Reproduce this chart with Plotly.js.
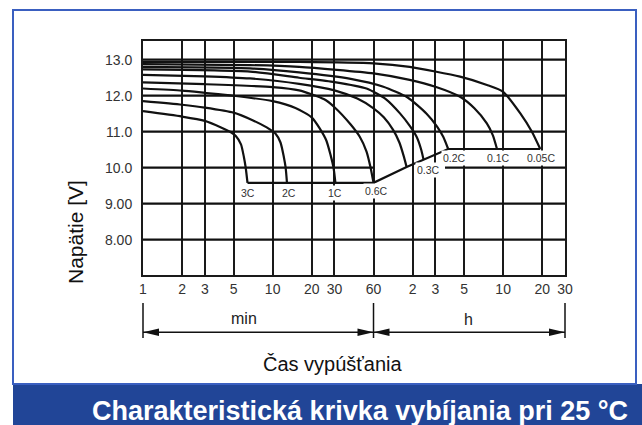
<!DOCTYPE html>
<html><head><meta charset="utf-8">
<script src="https://cdn.plot.ly/plotly-3.0.1.min.js"></script>
<style>html,body{margin:0;padding:0;background:#fff}#chart{width:642px;height:425px}</style>
</head><body><div id="chart"></div>
<script>
// ---- data (time in minutes, voltage in V) ----
const curveNames = ['3C','2C','1C','0.6C','','0.3C','0.2C','0.1C','0.05C'];
const t3C  = [1, 2, 3, 4, 4.7, 5.2, 5.7, 6.0, 6.2, 6.4];
const v3C  = [11.57, 11.42, 11.3, 11.12, 11.0, 10.88, 10.65, 10.3, 10.0, 9.58];
const t2C  = [1, 2, 3, 5, 7, 9, 10.5, 11.5, 12.2, 12.6, 12.9];
const v2C  = [11.85, 11.75, 11.67, 11.53, 11.32, 11.12, 10.95, 10.7, 10.3, 10.0, 9.58];
const t1C  = [1, 2, 3, 5, 10, 15, 20, 23, 26, 28, 29.5, 30.5];
const v1C  = [12.2, 12.14, 12.08, 12.0, 11.85, 11.66, 11.4, 11.1, 10.75, 10.35, 10.0, 9.58];
const t06C = [1, 3, 10, 16, 25, 30, 40, 47, 53, 57, 60];
const v06C = [12.37, 12.32, 12.24, 12.15, 11.9, 11.68, 11.2, 10.86, 10.45, 10.0, 9.58];
const tX   = [1, 3, 6.7, 16, 30, 45, 60, 72, 85, 95, 103, 108];
const vX   = [12.58, 12.54, 12.48, 12.33, 12.15, 11.92, 11.65, 11.4, 11.05, 10.7, 10.3, 10.02];
const t03C = [1, 6.7, 16, 30, 53, 75, 96, 115, 129, 140, 146];
const v03C = [12.73, 12.67, 12.5, 12.38, 12.2, 11.9, 11.51, 11.15, 10.86, 10.5, 10.22];
const t02C = [1, 6.7, 16, 40, 71.5, 110, 154, 185, 207, 226];
const v02C = [12.8, 12.76, 12.65, 12.47, 12.25, 11.95, 11.5, 11.15, 10.86, 10.52];
const t01C = [1, 6.7, 16, 60, 114, 180, 279, 360, 449, 500, 538];
const v01C = [12.88, 12.85, 12.8, 12.62, 12.44, 12.25, 11.97, 11.65, 11.23, 10.9, 10.52];
const t005C = [1, 16, 60, 114, 279, 450, 600, 814, 1000, 1160];
const v005C = [12.94, 12.94, 12.9, 12.8, 12.53, 12.3, 12.11, 11.51, 11.0, 10.52];

const xTickVals = [1, 2, 3, 5, 10, 20, 30, 60, 120, 180, 300, 600, 1200, 1800];
const xTickText = ['1','2','3','5','10','20','30','60','2','3','5','10','20','30'];
const yTickVals = [8, 9, 10, 11, 12, 13];
const yTickText = ['8.00','9.00','10.0','11.0','12.0','13.0'];
const xMinMinutes = 1, xMaxMinutes = 1800, hourStartMinutes = 60;
const yMin = 7.02, yMax = 13.52;

// ---- layout geometry ----
const W = 642, H = 425, ML = 143, MR = 77, MT = 41, MB = 150;
const PW = W - ML - MR, PH = H - MT - MB;
const px = v => (v - ML) / PW;          // pixel x -> paper x
const py = v => (H - MB - v) / PH;      // pixel y -> paper y
const INK = '#111', GRID = '#1a1a1a', GW = 2;
const logSpan = Math.log10(xMaxMinutes / xMinMinutes);
const xHour = Math.log10(hourStartMinutes / xMinMinutes) / logSpan;
const pxToMinutes = p => xMinMinutes * Math.pow(10, px(p) * logSpan);

const ts = [t3C, t2C, t1C, t06C, tX, t03C, t02C, t01C, t005C];
const vs = [v3C, v2C, v1C, v06C, vX, v03C, v02C, v01C, v005C];

// horizontal grid lines, one trace per segment (10.0 interrupted between 60 min and the 0.3C label)
const traces = [];
yTickVals.forEach(v => {
  const segs = v === 10 ? [[xMinMinutes, hourStartMinutes], [pxToMinutes(445), xMaxMinutes]] : [[xMinMinutes, xMaxMinutes]];
  segs.forEach(s => traces.push({x: s, y: [v, v], type: 'scatter', mode: 'lines',
    line: {color: INK, width: 2.2}, hoverinfo: 'skip', cliponaxis: false}));
});
ts.forEach((t, i) => traces.push({
  x: t, y: vs[i], type: 'scatter', mode: 'lines', name: curveNames[i],
  line: {color: INK, width: 2.2, shape: 'spline', smoothing: 0.6}, hoverinfo: 'skip'
}));
// cut-off voltage line through the curve end points
traces.push({
  x: ts.map(t => t[t.length - 1]), y: vs.map(v => v[v.length - 1]),
  type: 'scatter', mode: 'lines', line: {color: INK, width: 2.2}, hoverinfo: 'skip'
});

const labelShift = [[0,-10],[2,-10],[0,-10],[3,-8],[0,0],[5,-10],[6,-9],[1,-9],[1,-9]];
const font = 'Liberation Sans, Arial, sans-serif';
const annotations = [];
curveNames.forEach((n, i) => {
  if (!n) return;
  annotations.push({
    x: Math.log10(ts[i][ts[i].length - 1]), y: vs[i][vs[i].length - 1],
    xref: 'x', yref: 'y', xanchor: 'center', yanchor: 'middle', text: n, showarrow: false,
    xshift: labelShift[i][0], yshift: labelShift[i][1],
    font: {family: font, size: 10.5, color: '#333'}, bgcolor: 'white', borderpad: 1
  });
});
const txt = (x, y, text, size, color, extra) => Object.assign({
  xref: 'paper', yref: 'paper', x: px(x), y: py(y), xanchor: 'center', yanchor: 'middle',
  text: text, showarrow: false, font: {family: font, size: size, color: color}
}, extra || {});
annotations.push(
  txt(75, 232, 'Napätie [V]', 21, '#111', {textangle: -90}),
  txt(333, 364, 'Čas vypúšťania', 20, '#111'),
  txt(244, 318, 'min', 16, '#222'),
  txt(468, 319, 'h', 16, '#222'),
  txt(360, 411, 'Charakteristická krivka vybíjania pri 25 °C', 27, '#fff')
);
annotations[annotations.length - 1].font.weight = 'bold';

// decorations: frame, banner, min/h dimension arrows
const yTop = py(303), yBot = py(338), yArr = py(332.3);
const aL = 16 / PW, aH = 3.8 / PH;
const tri = (tipX, dir) => `M ${tipX},${yArr} L ${tipX + dir * aL},${yArr + aH} L ${tipX + dir * aL},${yArr - aH} Z`;
const shapes = [
  {type:'rect', xref:'paper', yref:'paper', x0: px(13), x1: px(642), y0: py(384), y1: py(426),
   fillcolor:'#214597', line:{width:0}, layer:'below'},
  {type:'rect', xref:'paper', yref:'paper', x0: px(13), x1: px(636), y0: py(384), y1: py(10),
   fillcolor:'rgba(0,0,0,0)', line:{color:'#3a5fc0', width:2}, layer:'below'},
  ...[0, xHour, 1].map(x => ({type:'line', xref:'paper', yref:'paper', x0:x, x1:x, y0:yTop, y1:yBot, line:{color:INK, width:1.5}})),
  {type:'line', xref:'paper', yref:'paper', x0:0, x1:1, y0:yArr, y1:yArr, line:{color:INK, width:1.5}},
  {type:'path', xref:'paper', yref:'paper', path: tri(0, 1), fillcolor: INK, line:{width:0}},
  {type:'path', xref:'paper', yref:'paper', path: tri(xHour, -1), fillcolor: INK, line:{width:0}},
  {type:'path', xref:'paper', yref:'paper', path: tri(xHour, 1), fillcolor: INK, line:{width:0}},
  {type:'path', xref:'paper', yref:'paper', path: tri(1, -1), fillcolor: INK, line:{width:0}}
];

const layout = {
  width: W, height: H, autosize: false, showlegend: false,
  margin: {l: ML, r: MR, t: MT, b: MB, pad: 0},
  paper_bgcolor: '#fff', plot_bgcolor: '#fff',
  xaxis: {type: 'log', range: [Math.log10(xMinMinutes), Math.log10(xMaxMinutes)],
    tickmode: 'array', tickvals: xTickVals, ticktext: xTickText, ticks: '', ticklabelstandoff: 0,
    showgrid: true, gridcolor: GRID, gridwidth: GW, zeroline: false,
    showline: true, mirror: true, linecolor: GRID, linewidth: GW,
    tickfont: {family: font, size: 14, color: '#333'}},
  yaxis: {type: 'linear', range: [yMin, yMax], tickmode: 'array', tickvals: yTickVals, ticktext: yTickText,
    ticks: '', ticklabelstandoff: 6, showgrid: false, zeroline: false,
    showline: true, mirror: true, linecolor: GRID, linewidth: GW,
    tickfont: {family: font, size: 14, color: '#333'}},
  annotations: annotations, shapes: shapes
};
Plotly.newPlot('chart', traces, layout, {staticPlot: true, displayModeBar: false});
</script></body></html>
